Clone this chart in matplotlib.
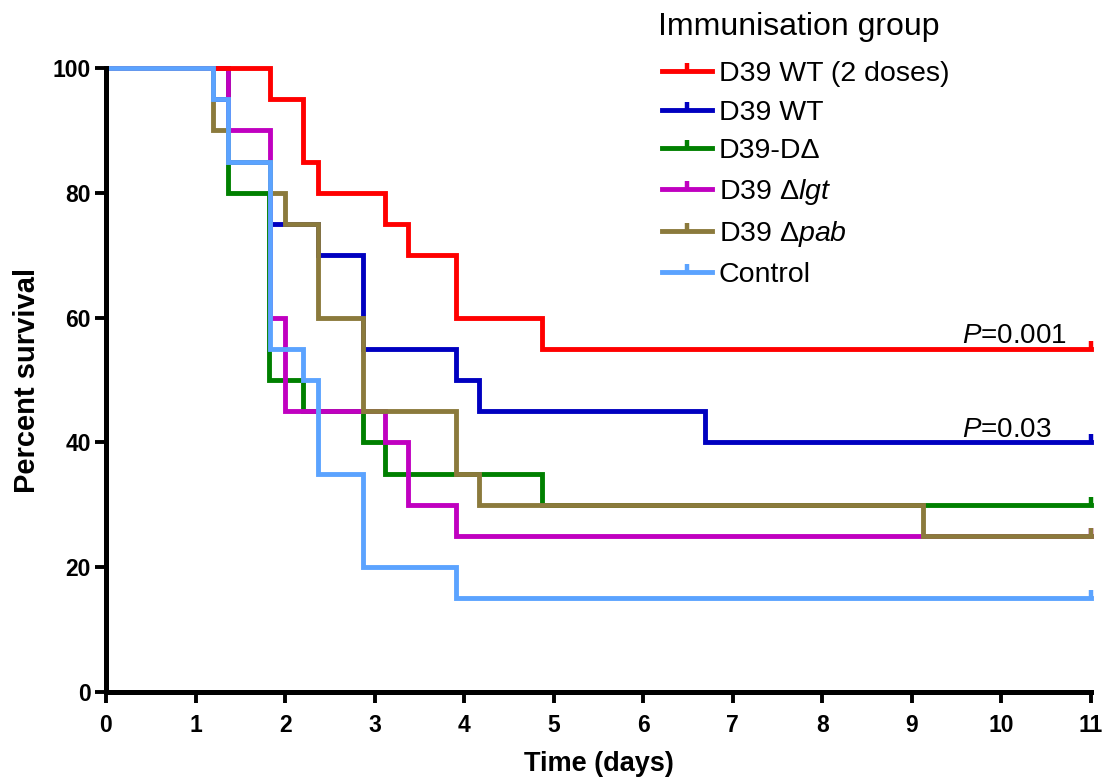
import matplotlib
matplotlib.use("Agg")
import matplotlib.pyplot as plt
from matplotlib.lines import Line2D

plt.rcParams["font.family"] = ["Liberation Sans", "DejaVu Sans"]
plt.rcParams["mathtext.fontset"] = "custom"
plt.rcParams["mathtext.rm"] = "Liberation Sans"
plt.rcParams["mathtext.it"] = "Liberation Sans:italic"

# Kaplan-Meier survival curves (time in days, percent surviving)
groups = ["D39 WT (2 doses)", "D39 WT", "D39-D\u0394",
          "D39 \u0394$\\mathit{lgt}$", "D39 \u0394$\\mathit{pab}$", "Control"]
colors = ["#FF0000", "#0000C0", "#008000", "#C000C0", "#8B7A3C", "#5BA3FF"]

wt2_t = [0, 1.83, 2.20, 2.37, 3.12, 3.37, 3.91, 4.87, 11]
wt2_s = [100, 95, 85, 80, 75, 70, 60, 55, 55]
wt_t = [0, 1.20, 1.36, 1.83, 2.37, 2.87, 3.91, 4.17, 6.69, 11]
wt_s = [100, 95, 85, 75, 70, 55, 50, 45, 40, 40]
dd_t = [0, 1.36, 1.82, 2.20, 2.87, 3.12, 4.87, 11]
dd_s = [100, 80, 50, 45, 40, 35, 30, 30]
lgt_t = [0, 1.36, 1.83, 2.00, 3.12, 3.37, 3.91, 11]
lgt_s = [100, 90, 60, 45, 40, 30, 25, 25]
pab_t = [0, 1.20, 1.36, 1.83, 2.00, 2.37, 2.87, 3.91, 4.17, 9.12, 11]
pab_s = [100, 90, 85, 80, 75, 60, 45, 35, 30, 25, 25]
ctrl_t = [0, 1.20, 1.36, 1.83, 2.20, 2.37, 2.87, 3.91, 11]
ctrl_s = [100, 95, 85, 55, 50, 35, 20, 15, 15]

series_t = [wt2_t, wt_t, dd_t, lgt_t, pab_t, ctrl_t]
series_s = [wt2_s, wt_s, dd_s, lgt_s, pab_s, ctrl_s]

x_ticks = list(range(0, 12))
y_ticks = [0, 20, 40, 60, 80, 100]
p_labels = [("$\\mathit{P}$=0.001", 55.9), ("$\\mathit{P}$=0.03", 40.9)]

W, H = 1114, 778
fig = plt.figure(figsize=(W / 100, H / 100), dpi=100)
ax = fig.add_axes([106 / W, 1 - 692 / H, (1091 - 106) / W, (692 - 68) / H])

# drawing order: later entries sit on top
order = [1, 2, 3, 4, 0, 5]
lw = 3.5
for z, i in enumerate(order):
    ax.step(series_t[i], series_s[i], where="post", color=colors[i], lw=lw,
            clip_on=False, zorder=3 + z, solid_joinstyle="miter")
    ax.plot([series_t[i][-1]], [series_s[i][-1]], marker=2, ms=6, mew=3.2,
            color=colors[i], clip_on=False, zorder=3 + z)

ax.set_xlim(0, 11)
ax.set_ylim(0, 100)
ax.set_xticks(x_ticks)
ax.set_yticks(y_ticks)
for s in ["top", "right"]:
    ax.spines[s].set_visible(False)
for s in ["left", "bottom"]:
    ax.spines[s].set_linewidth(3.6)
    ax.spines[s].set_zorder(10)
ax.tick_params(axis="both", direction="out", length=8, width=2.8)
ax.tick_params(axis="x", pad=8)
ax.tick_params(axis="y", pad=3)
for lab in ax.get_xticklabels() + ax.get_yticklabels():
    lab.set_fontweight("bold")
    lab.set_fontsize(16.5)

ax.set_xlabel("Time (days)", fontsize=19.5, fontweight="bold", labelpad=10)
ax.set_ylabel("Percent survival", fontsize=21, fontweight="bold", labelpad=8)

for txt, yv in p_labels:
    ax.text(9.56, yv, txt, fontsize=20, ha="left", va="baseline")

fig.text(658 / W, 1 - 35 / H, "Immunisation group", fontsize=23,
         ha="left", va="baseline")

handles = [Line2D([], [], color=c, lw=lw, marker=2, ms=6, mew=3.2) for c in colors]
leg = fig.legend(handles, groups, loc="upper left",
                 bbox_to_anchor=(662 / W, 1 - 61 / H), frameon=False,
                 fontsize=20.5, handlelength=1.75, handletextpad=0.25,
                 labelspacing=0.44, borderpad=0, borderaxespad=0)

fig.savefig("out.png", dpi=100)
